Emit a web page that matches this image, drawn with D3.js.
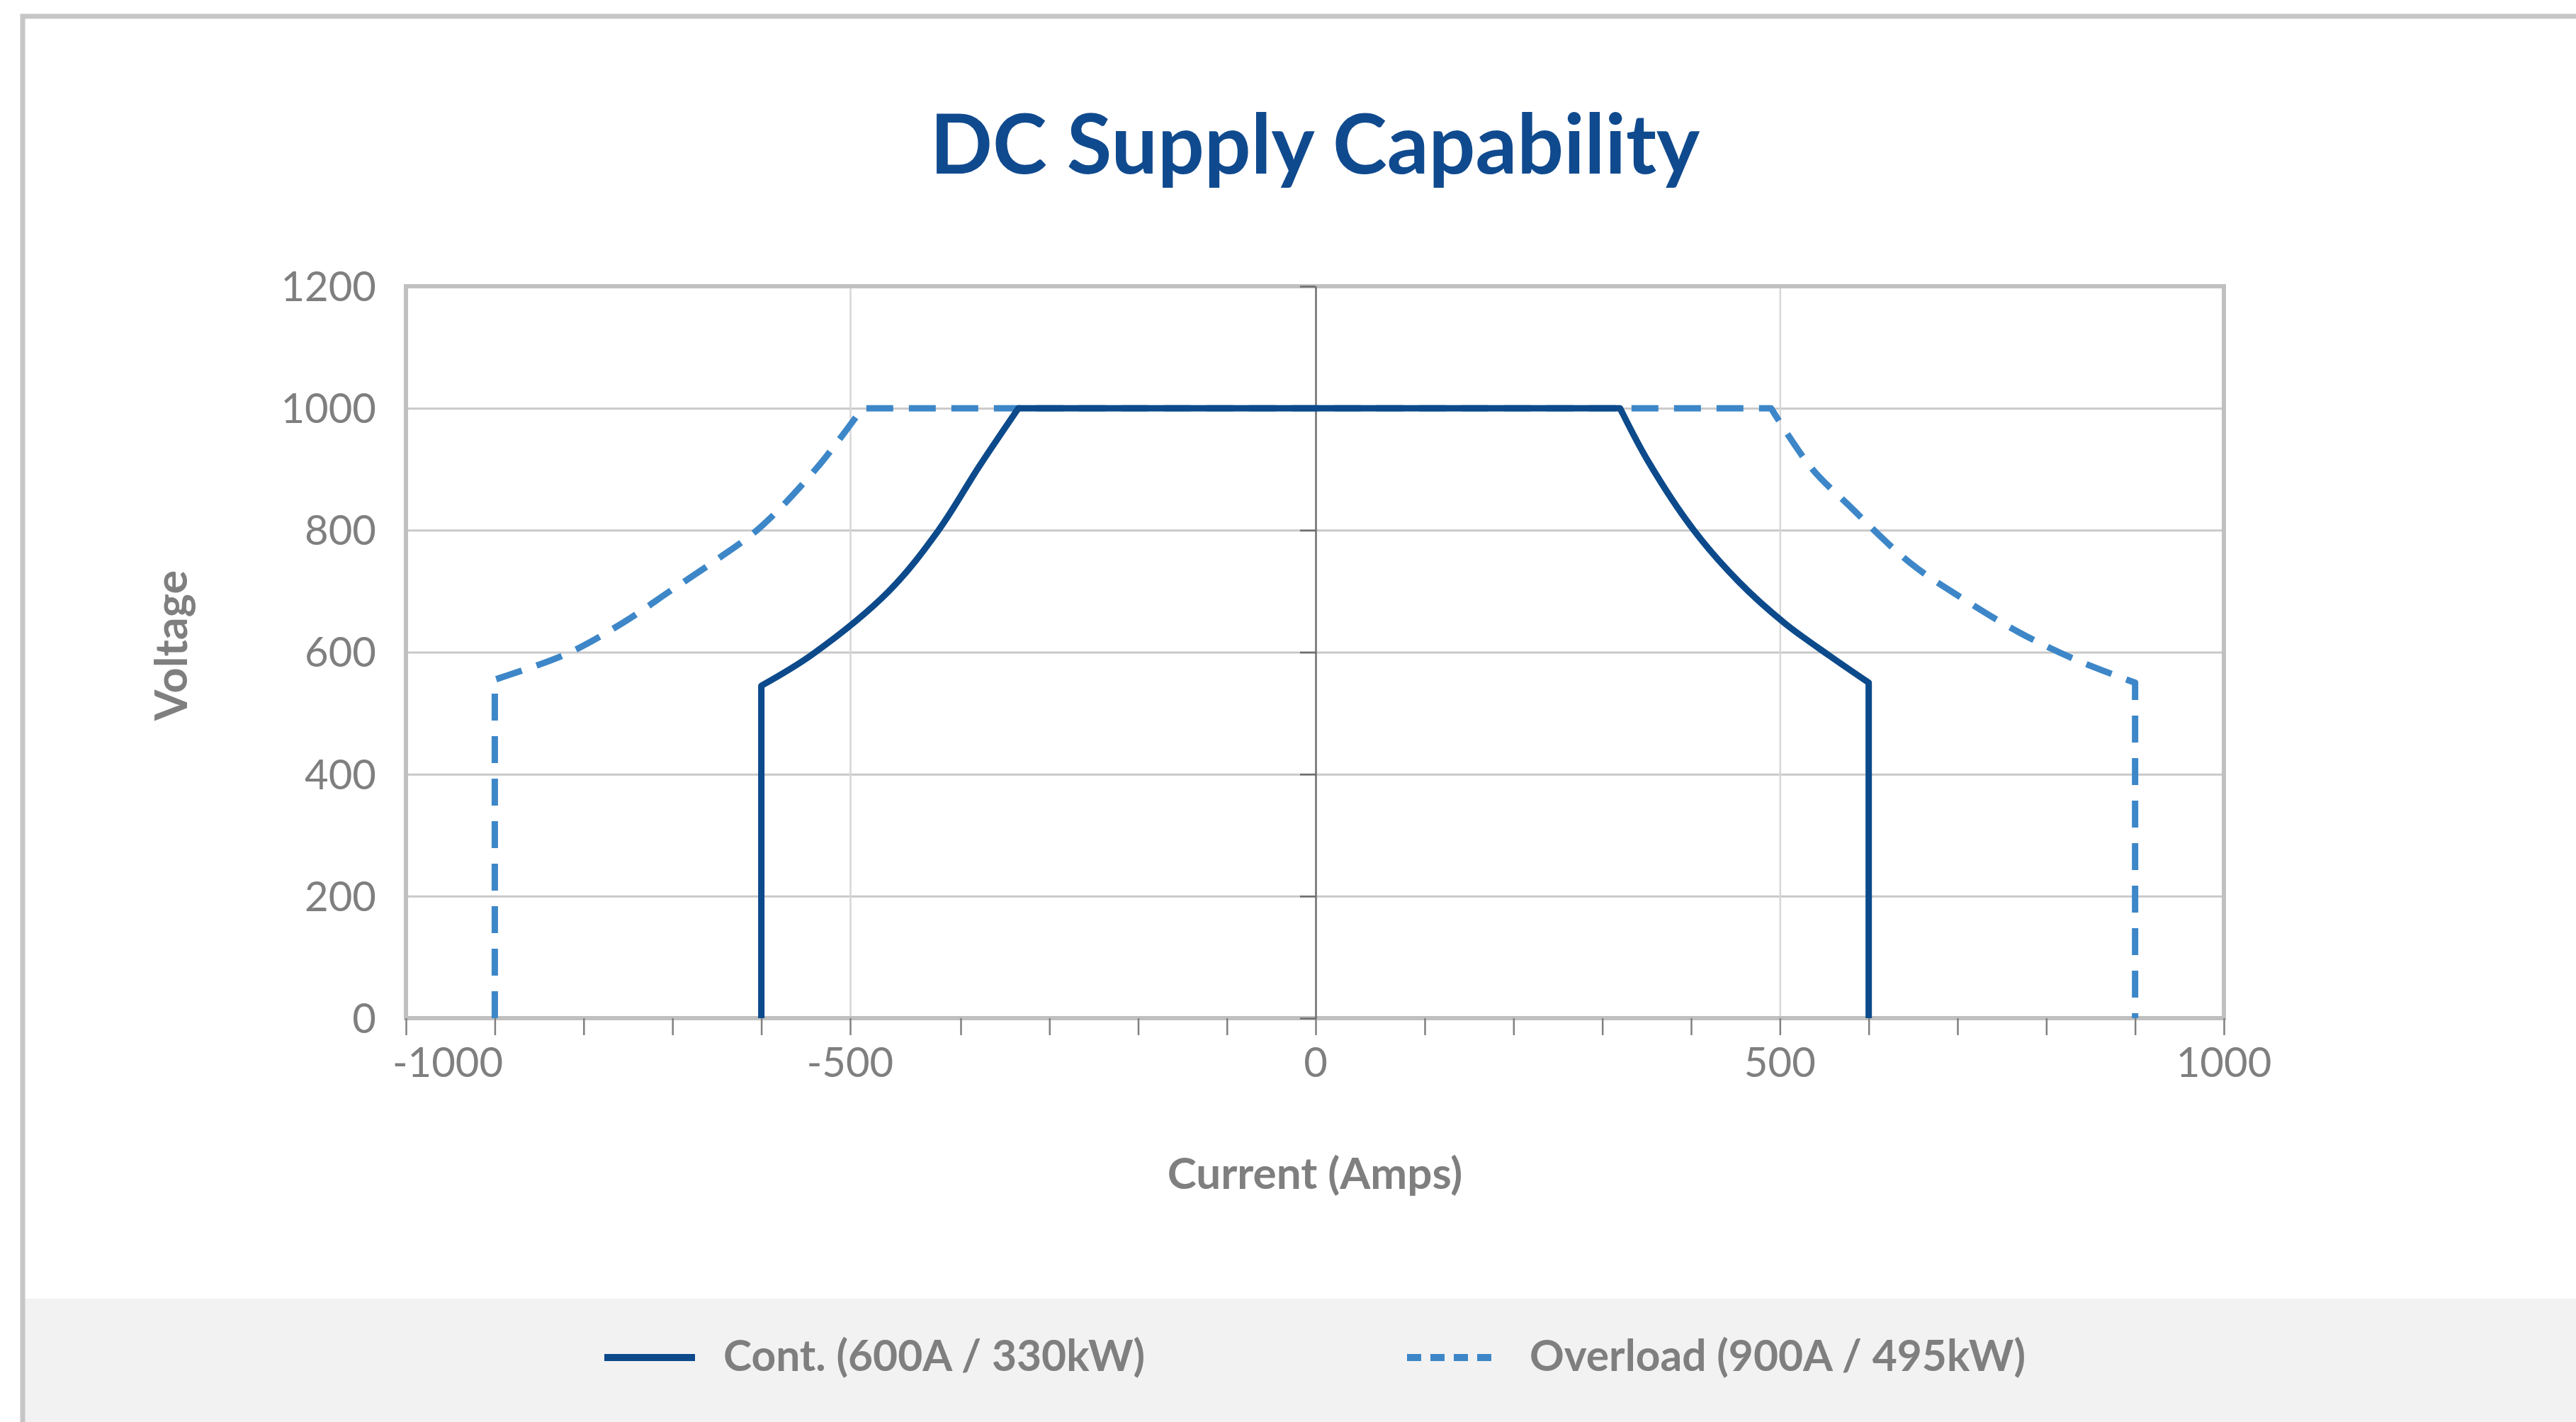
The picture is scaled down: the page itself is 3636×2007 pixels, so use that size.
<!DOCTYPE html>
<html>
<head>
<meta charset="utf-8">
<script src="https://cdn.jsdelivr.net/npm/d3@7"></script>
<style>
  body { margin: 0; background: #fff; }
  text { font-family: Lato, 'Open Sans', sans-serif; }
</style>
</head>
<body>
<div id="chart"></div>
<script>
const title = 'DC Supply Capability'
const xTitle = 'Current (Amps)'
const yTitle = 'Voltage'
const seriesNames = ['Cont. (600A / 330kW)', 'Overload (900A / 495kW)']

// walking the outline from bottom left to bottom right
const contCurrent = [-600, -600, -542, -465, -420, -379, -335, 320, 352, 403, 454, 505, 556, 600, 600]
const contVoltage = [0, 545, 597, 700, 800, 905, 1000, 1000, 912, 800, 715, 648, 594, 550, 0]
const overCurrent = [-900, -900, -818, -755, -701, -650, -601, -537, -489, 490, 536, 576, 647, 709, 770, 831, 900, 900]
const overVoltage = [0, 555, 598, 649, 702, 752, 805, 903, 1000, 1000, 901, 843, 746, 685, 632, 589, 550, 0]

const xTickLabels = [-1000, -500, 0, 500, 1000]
const yTickLabels = [0, 200, 400, 600, 800, 1000, 1200]

const width = 3636
const height = 2007
const plot = {left: 573, right: 3139, top: 404, bottom: 1437}
const FONT_SIZE = 58
const GREY_TEXT = '#7f7f7f'
const CONT_COLOR = '#0c4a8b'
const OVER_COLOR = '#3d87c8'

// the source axis is a little uneven (two of the 100A steps are wider), so the scale follows it
const xScale = d3.scaleLinear()
  .domain([-1000, -500, -400, 0, 100, 1000])
  .range([plot.left, 1200, 1356, 1857, 2011, plot.right])
const yScale = d3.scaleLinear().domain([0, 1200]).range([plot.bottom, plot.top])

const svg = d3.select('#chart')
  .append('svg')
  .attr('width', width)
  .attr('height', height)

// legend band and outer frame
svg.append('rect')
  .attr('x', 32).attr('y', 1833).attr('width', width - 32).attr('height', height - 1833)
  .attr('fill', '#f2f2f2')
svg.append('path')
  .attr('d', `M32,${height} V23 H${width}`)
  .attr('fill', 'none').attr('stroke', '#c6c6c6').attr('stroke-width', 7)

svg.append('text')
  .attr('x', 1856).attr('y', 245)
  .attr('text-anchor', 'middle').attr('font-size', 116).attr('font-weight', 'bold').attr('fill', '#104a8e')
  .text(title)

// grid
svg.append('g')
  .attr('transform', `translate(${plot.left},0)`)
  .call(d3.axisLeft(yScale).tickValues(yTickLabels.slice(1, -1)).tickSize(-(plot.right - plot.left)).tickFormat(''))
  .call(g => g.select('.domain').remove())
  .call(g => g.selectAll('line').attr('stroke', '#c9c9c9').attr('stroke-width', 3))

svg.append('g')
  .attr('transform', `translate(0,${plot.bottom})`)
  .call(d3.axisBottom(xScale).tickValues([-500, 500]).tickSize(-(plot.bottom - plot.top)).tickFormat(''))
  .call(g => g.select('.domain').remove())
  .call(g => g.selectAll('line').attr('stroke', '#d6d6d6').attr('stroke-width', 2.5))

svg.append('rect')
  .attr('x', plot.left).attr('y', plot.top)
  .attr('width', plot.right - plot.left).attr('height', plot.bottom - plot.top)
  .attr('fill', 'none').attr('stroke', '#c0c0c0').attr('stroke-width', 6)

// minor ticks every 100 A under the plot
svg.append('g')
  .attr('transform', `translate(0,${plot.bottom})`)
  .call(d3.axisBottom(xScale).ticks(20).tickSize(24).tickFormat(''))
  .call(g => g.select('.domain').remove())
  .call(g => g.selectAll('line').attr('stroke', '#808080').attr('stroke-width', 2.5))

// vertical axis through 0 A
svg.append('g')
  .attr('transform', `translate(${xScale(0)},0)`)
  .call(d3.axisLeft(yScale).tickValues(yTickLabels).tickSize(22).tickSizeOuter(0).tickFormat(''))
  .call(g => g.select('.domain').attr('stroke', '#6d6d6d').attr('stroke-width', 2.5))
  .call(g => g.selectAll('line').attr('stroke', '#6d6d6d').attr('stroke-width', 2.5))

svg.selectAll('text.x_label')
  .data(xTickLabels)
  .enter()
  .append('text')
  .classed('x_label', true)
  .attr('x', (d, i) => i === 0 ? xScale(d) - 19 : xScale(d))
  .attr('y', 1520)
  .attr('text-anchor', (d, i) => i === 0 ? 'start' : 'middle')
  .attr('font-size', FONT_SIZE).attr('fill', GREY_TEXT)
  .text(d => String(d))

svg.selectAll('text.y_label')
  .data(yTickLabels)
  .enter()
  .append('text')
  .classed('y_label', true)
  .attr('x', 531)
  .attr('y', d => yScale(d))
  .attr('dy', '0.36em')
  .attr('text-anchor', 'end')
  .attr('font-size', FONT_SIZE).attr('fill', GREY_TEXT)
  .text(d => d)

svg.append('text')
  .attr('x', 1856).attr('y', 1678)
  .attr('text-anchor', 'middle').attr('font-size', 62).attr('font-weight', 'bold').attr('fill', GREY_TEXT)
  .text(xTitle)

svg.append('text')
  .attr('transform', 'translate(264, 911) rotate(-90)')
  .attr('text-anchor', 'middle').attr('font-size', 63).attr('font-weight', 'bold').attr('fill', GREY_TEXT)
  .text(yTitle)

// series: straight where current or voltage holds, smoothed along the power curves
const straight = d3.line().x(d => xScale(d[0])).y(d => yScale(d[1]))
const smooth = d3.line().x(d => xScale(d[0])).y(d => yScale(d[1])).curve(d3.curveCatmullRom.alpha(0.5))

function seriesPath (currents, voltages) {
  const pts = currents.map((c, i) => [c, voltages[i]])
  const runs = []
  for (let i = 1; i < pts.length; i++) {
    const flat = pts[i][0] === pts[i - 1][0] || pts[i][1] === pts[i - 1][1]
    const last = runs[runs.length - 1]
    if (last && last.flat === flat) last.pts.push(pts[i])
    else runs.push({flat: flat, pts: [pts[i - 1], pts[i]]})
  }
  return runs.map((r, i) => {
    const d = (r.flat ? straight : smooth)(r.pts)
    return i === 0 ? d : 'L' + d.slice(1)
  }).join('')
}

svg.append('path')
  .attr('d', seriesPath(overCurrent, overVoltage))
  .attr('fill', 'none').attr('stroke', OVER_COLOR).attr('stroke-width', 9)
  .attr('stroke-dasharray', '38,22').attr('stroke-linejoin', 'round')

svg.append('path')
  .attr('d', seriesPath(contCurrent, contVoltage))
  .attr('fill', 'none').attr('stroke', CONT_COLOR).attr('stroke-width', 9)
  .attr('stroke-linejoin', 'round')

// legend
const legend = [
  {name: seriesNames[0], color: CONT_COLOR, dash: null, x: 853, tx: 1021},
  {name: seriesNames[1], color: OVER_COLOR, dash: '20,13', x: 1986, tx: 2159}
]

svg.selectAll('g.legend_item')
  .data(legend)
  .enter()
  .append('g')
  .classed('legend_item', true)
  .call(sel => {
    sel.append('line')
      .attr('x1', d => d.x).attr('x2', d => d.x + 128).attr('y1', 1916).attr('y2', 1916)
      .attr('stroke', d => d.color).attr('stroke-width', 10)
      .attr('stroke-dasharray', d => d.dash)

    sel.append('text')
      .attr('x', d => d.tx).attr('y', 1935)
      .attr('font-size', 60.5).attr('font-weight', 'bold').attr('fill', GREY_TEXT)
      .text(d => d.name)
  })
</script>
</body>
</html>
